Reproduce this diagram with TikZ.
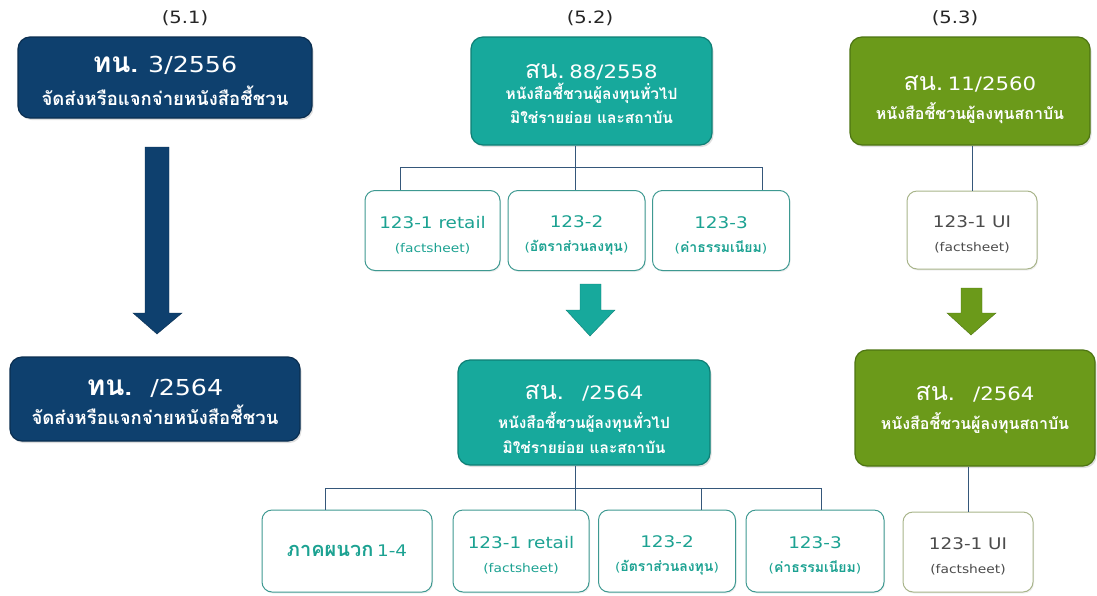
\documentclass[tikz,border=0pt]{standalone}
\usepackage{fontspec}
\usetikzlibrary{shadows}
\setmainfont{DejaVu Sans}[FakeStretch=1.15]
\newfontfamily\thai[Script=Thai]{Loma}
\definecolor{navy}{HTML}{0E406E}
\definecolor{navyline}{HTML}{0A2E50}
\definecolor{teal1}{HTML}{17A99C}
\definecolor{tealline}{HTML}{0E7F75}
\definecolor{tealtext}{HTML}{1CA292}
\definecolor{olive}{HTML}{6B9A1A}
\definecolor{oliveline}{HTML}{4D7412}
\definecolor{olivesoft}{HTML}{A8B48A}
\definecolor{wire}{HTML}{35577A}
\tikzset{
  head/.style={rounded corners=12pt, draw, line width=1.2pt, text=white, align=center, inner sep=2pt,
    drop shadow={opacity=0.25, shadow xshift=1.5pt, shadow yshift=-2pt}},
  navybox/.style={head, fill=navy, draw=navyline, font=\fontsize{10}{35}\selectfont},
  tealbox/.style={head, fill=teal1, draw=tealline, font=\fontsize{10}{24.5}\selectfont},
  olivebox/.style={head, fill=olive, draw=oliveline, font=\fontsize{10}{29}\selectfont},
  leaf/.style={rounded corners=10pt, draw, line width=1pt, fill=white, align=center, minimum height=80pt, inner sep=2pt,
    font=\fontsize{10}{24}\selectfont, drop shadow={opacity=0.12, shadow xshift=1pt, shadow yshift=-1.5pt}},
  tealleaf/.style={leaf, draw=tealline!80, text=tealtext},
  oliveleaf/.style={leaf, draw=olivesoft, text=black!70},
  wire/.style={draw=wire, line width=0.8pt},
  tag/.style={font=\fontsize{17}{20}\selectfont, text=black!85}
}
\newcommand\lift[1]{\rule{0pt}{#1}}
\newcommand\navyth{\fontsize{28}{30}\selectfont\thai\bfseries}
\newcommand\navynum{\fontsize{22}{30}\selectfont}
\newcommand\navysub{\fontsize{18.5}{22}\selectfont\thai\bfseries}
\newcommand\headth{\fontsize{25}{27}\selectfont\thai}
\newcommand\headnum{\fontsize{18.5}{27}\selectfont}
\newcommand\tealsub{\fontsize{15.5}{20}\selectfont\thai\bfseries}
\newcommand\olivesub{\fontsize{16}{20}\selectfont\thai\bfseries}
\newcommand\leaftop{\fontsize{16}{20}\selectfont}
\newcommand\leaflow{\fontsize{12}{16}\selectfont}
\newcommand\leafth{\fontsize{14}{16}\selectfont\thai\bfseries}
\begin{document}
\begin{tikzpicture}[x=1pt,y=-1pt]
\useasboundingbox (0,0) rectangle (1097,595);
\def\bluearrow{(145,147) -- (169,147) -- (169,313) -- (182,313) -- (157,334) -- (133,313) -- (145,313) -- cycle}
\def\tealarrow{(580,284) -- (601,284) -- (601,310) -- (615,310) -- (590,336) -- (566,310) -- (580,310) -- cycle}
\def\olivearrow{(961,288) -- (982,288) -- (982,313) -- (996,313) -- (971,335) -- (947,313) -- (961,313) -- cycle}

\node[tag] at (185,18) {(5.1)};
\node[tag] at (590,18) {(5.2)};
\node[tag] at (955,18) {(5.3)};

% column 5.1
\node[navybox, minimum width=294pt, minimum height=81pt] (tn1) at (165,77.5)
  {\lift{24pt}{\navyth ทน.}\hspace{10pt}{\navynum 3/2556}\\[-2pt] {\navysub จัดส่งหรือแจกจ่ายหนังสือชี้ชวน}};
\node[navybox, minimum width=290pt, minimum height=84pt] (tn2) at (155,399)
  {\lift{22pt}{\navyth ทน.}\hspace{10pt}{\navynum\ /2564}\\[-6pt] {\navysub จัดส่งหรือแจกจ่ายหนังสือชี้ชวน}};
\fill[navy, draw=navyline] \bluearrow;

% column 5.2
\node[tealbox, minimum width=241pt, minimum height=108pt] (sn1) at (591.5,91)
  {\lift{21pt}{\headth สน.} {\headnum 88/2558}\\[-4pt] {\tealsub หนังสือชี้ชวนผู้ลงทุนทั่วไป}\\ {\tealsub มิใช่รายย่อย และสถาบัน}};
\node[tealleaf, minimum width=135pt] (c1) at (432.5,230.5) {\lift{21pt}{\leaftop 123-1 retail}\\ {\leaflow (factsheet)}};
\node[tealleaf, minimum width=137pt] (c2) at (576.5,230.5) {\lift{21pt}{\leaftop 123-2}\\ {\leaflow ({\leafth อัตราส่วนลงทุน})}};
\node[tealleaf, minimum width=137pt] (c3) at (721,230.5) {\lift{21pt}{\leaftop 123-3}\\ {\leaflow ({\leafth ค่าธรรมเนียม})}};
\coordinate (bus1) at (575,167);
\coordinate (bus1l) at (400,167);
\coordinate (bus1r) at (762,167);
\draw[wire] (sn1.south -| bus1) -- (bus1);
\draw[wire] (bus1l |- c1.north) -- (bus1l) -- (bus1r) -- (bus1r |- c3.north);
\draw[wire] (bus1) -- (bus1 |- c2.north);
\fill[teal1, draw=tealline] \tealarrow;

\node[tealbox, minimum width=252pt, minimum height=105pt] (sn2) at (584,412.5)
  {\lift{28pt}{\headth สน.} {\headnum\ \ /2564}\\[5pt] {\tealsub หนังสือชี้ชวนผู้ลงทุนทั่วไป}\\ {\tealsub มิใช่รายย่อย และสถาบัน}};
\node[tealleaf, minimum width=170pt, minimum height=82pt] (d1) at (347,551) {{\fontsize{20}{22}\selectfont\thai\bfseries ภาคผนวก} {\leaftop 1-4}};
\node[tealleaf, minimum width=136pt, minimum height=82pt] (d2) at (521,551) {\lift{21pt}{\leaftop 123-1 retail}\\ {\leaflow (factsheet)}};
\node[tealleaf, minimum width=137pt, minimum height=82pt] (d3) at (667,551) {\lift{21pt}{\leaftop 123-2}\\ {\leaflow ({\leafth อัตราส่วนลงทุน})}};
\node[tealleaf, minimum width=138pt, minimum height=82pt] (d4) at (815,551) {\lift{21pt}{\leaftop 123-3}\\ {\leaflow ({\leafth ค่าธรรมเนียม})}};
\coordinate (bus2) at (575,488);
\coordinate (bus2l) at (325,488);
\coordinate (bus2m) at (701,488);
\coordinate (bus2r) at (821,488);
\draw[wire] (sn2.south -| bus2) -- (bus2);
\draw[wire] (bus2l |- d1.north) -- (bus2l) -- (bus2r) -- (bus2r |- d4.north);
\draw[wire] (bus2) -- (bus2 |- d2.north);
\draw[wire] (bus2m) -- (bus2m |- d3.north);

% column 5.3
\node[olivebox, minimum width=240pt, minimum height=108pt] (sg1) at (970,91)
  {\lift{32pt}{\headth สน.} {\headnum 11/2560}\\ {\olivesub หนังสือชี้ชวนผู้ลงทุนสถาบัน}};
\node[oliveleaf, minimum width=130pt, minimum height=78pt] (e1) at (972,230) {\lift{21pt}{\leaftop 123-1 UI}\\ {\leaflow (factsheet)}};
\draw[wire] (sg1.south -| e1) -- (e1.north);
\fill[olive, draw=oliveline] \olivearrow;

\node[olivebox, minimum width=240pt, minimum height=116pt] (sg2) at (975,408)
  {\lift{19pt}{\headth สน.} {\headnum\ \ /2564}\\ {\olivesub หนังสือชี้ชวนผู้ลงทุนสถาบัน}};
\node[oliveleaf, minimum width=130pt, minimum height=80pt] (e2) at (968,552) {\lift{21pt}{\leaftop 123-1 UI}\\ {\leaflow (factsheet)}};
\draw[wire] (sg2.south -| e2) -- (e2.north);
\end{tikzpicture}
\end{document}
